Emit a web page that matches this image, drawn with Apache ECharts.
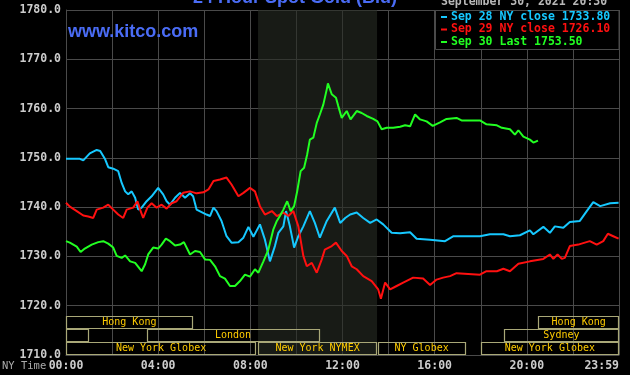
<!DOCTYPE html>
<html>
<head>
<meta charset="utf-8">
<script src="https://cdn.jsdelivr.net/npm/echarts@6/dist/echarts.min.js"></script>
<style>
html,body{margin:0;padding:0;background:#000;}
#chart{width:630px;height:375px;}
</style>
</head>
<body>
<div id="chart"></div>
<script>
// ---- data (minutes after NY midnight, price) ----
const sep28 = [[0,1749.8],[36,1749.8],[45,1749.5],[62,1750.9],[80,1751.6],[89,1751.4],[102,1749.7],[110,1748.1],[123,1747.8],[136,1747.3],[145,1744.9],[154,1743.2],[162,1742.6],[171,1743.2],[180,1741.9],[188,1739.5],[197,1739.9],[210,1741.2],[223,1742.2],[240,1743.9],[253,1742.6],[262,1741.2],[271,1740.5],[284,1741.9],[297,1742.9],[310,1741.9],[323,1742.8],[331,1742.2],[340,1739.5],[353,1739.0],[366,1738.5],[375,1738.2],[384,1739.9],[392,1739.2],[405,1737.2],[418,1734.1],[431,1732.8],[449,1732.9],[462,1733.8],[475,1736.0],[488,1734.0],[505,1736.5],[518,1733.4],[531,1729.0],[544,1732.1],[553,1734.8],[566,1736.1],[573,1739.2],[583,1736.1],[594,1731.8],[605,1734.1],[618,1736.1],[635,1739.2],[648,1736.8],[661,1733.8],[679,1737.2],[700,1739.9],[714,1736.8],[727,1737.8],[740,1738.5],[757,1738.9],[774,1737.8],[792,1736.8],[809,1737.5],[826,1736.5],[848,1734.8],[870,1734.7],[896,1734.9],[913,1733.6],[948,1733.4],[987,1733.1],[1009,1734.1],[1078,1734.1],[1104,1734.5],[1139,1734.5],[1156,1734.1],[1182,1734.3],[1208,1735.3],[1217,1734.5],[1243,1736.0],[1260,1734.8],[1273,1736.1],[1295,1735.8],[1312,1737.0],[1338,1737.2],[1356,1739.2],[1373,1741.0],[1391,1740.2],[1417,1740.8],[1439,1740.9]];
const sep29 = [[0,1740.9],[10,1740.1],[28,1739.2],[45,1738.3],[58,1738.1],[71,1737.8],[80,1739.5],[97,1739.9],[110,1740.5],[123,1739.5],[136,1738.5],[149,1737.8],[158,1739.5],[175,1739.9],[186,1741.2],[193,1739.5],[201,1737.8],[212,1739.9],[223,1740.8],[236,1739.9],[249,1740.5],[262,1739.7],[275,1740.8],[288,1741.2],[305,1742.9],[323,1743.2],[340,1742.8],[358,1743.0],[371,1743.6],[384,1745.3],[401,1745.6],[418,1746.0],[431,1744.6],[449,1742.2],[462,1742.9],[479,1743.9],[492,1743.2],[505,1740.2],[518,1738.5],[536,1739.2],[549,1738.2],[566,1738.9],[579,1738.2],[592,1739.2],[605,1736.1],[618,1730.1],[627,1728.0],[640,1728.7],[653,1726.7],[666,1729.4],[674,1731.4],[692,1732.1],[703,1732.8],[718,1731.1],[731,1730.1],[744,1728.0],[757,1727.4],[774,1726.0],[796,1725.0],[813,1723.3],[820,1721.4],[831,1724.7],[844,1723.3],[861,1724.0],[878,1724.7],[904,1725.7],[930,1725.5],[948,1724.2],[965,1725.3],[982,1725.7],[1000,1726.0],[1017,1726.6],[1078,1726.3],[1095,1727.0],[1122,1727.0],[1139,1727.5],[1156,1727.0],[1178,1728.5],[1208,1729.0],[1243,1729.5],[1260,1730.4],[1269,1729.5],[1280,1730.4],[1291,1729.5],[1299,1729.7],[1312,1732.1],[1334,1732.4],[1351,1732.8],[1364,1733.1],[1382,1732.4],[1399,1733.1],[1411,1734.6],[1425,1734.1],[1439,1733.6]];
const sep30 = [[0,1733.1],[10,1732.8],[28,1732.0],[38,1730.9],[49,1731.6],[67,1732.4],[84,1732.9],[97,1733.1],[110,1732.6],[123,1731.8],[132,1730.1],[145,1729.7],[154,1730.2],[167,1729.0],[180,1728.7],[197,1727.0],[206,1728.4],[214,1730.4],[227,1731.8],[240,1731.6],[249,1732.4],[260,1733.6],[271,1733.1],[284,1732.2],[297,1732.4],[307,1732.9],[323,1730.4],[336,1731.1],[349,1730.9],[362,1729.4],[375,1729.3],[388,1728.0],[401,1726.0],[414,1725.5],[427,1724.0],[440,1724.0],[453,1725.0],[466,1726.3],[479,1725.9],[492,1727.4],[501,1726.7],[514,1729.0],[527,1731.4],[540,1735.5],[549,1737.2],[557,1738.2],[566,1739.5],[576,1741.2],[585,1739.2],[594,1740.2],[602,1743.2],[611,1747.3],[620,1748.0],[628,1750.7],[635,1753.7],[644,1754.1],[653,1757.1],[661,1758.8],[670,1760.8],[679,1763.9],[682,1765.1],[692,1762.9],[703,1762.2],[709,1760.5],[718,1758.1],[731,1759.5],[741,1757.8],[757,1759.5],[770,1759.1],[783,1758.5],[800,1757.9],[811,1757.4],[822,1755.8],[835,1756.1],[852,1756.1],[870,1756.3],[883,1756.6],[896,1756.4],[909,1758.8],[922,1757.8],[939,1757.4],[955,1756.5],[974,1757.2],[991,1757.9],[1017,1758.1],[1030,1757.6],[1078,1757.6],[1095,1756.8],[1122,1756.6],[1135,1756.1],[1156,1755.8],[1169,1754.7],[1178,1755.6],[1191,1754.3],[1208,1753.7],[1217,1753.1],[1229,1753.5]];
const legendLabels = ['Sep 28 NY close 1733.80', 'Sep 29 NY close 1726.10', 'Sep 30 Last 1753.50'];
// sessions: [start minute, end minute, row (0 = bottom), label]
const sessions = [
  [0, 330, 2, 'Hong Kong'],
  [1230, 1440, 2, 'Hong Kong'],
  [0, 60, 1, ''],
  [210, 660, 1, 'London'],
  [1140, 1440, 1, 'Sydney'],
  [0, 495, 0, 'New York Globex'],
  [500, 810, 0, 'New York NYMEX'],
  [812, 1040, 0, 'NY Globex'],
  [1080, 1440, 0, 'New York Globex']
];
const nymexOpen = [500, 810];
const yTicks = {min: 1710, max: 1780, step: 10};
const titleText = '24 Hour Spot Gold (Bid)';
const siteText = 'www.kitco.com';
const dateText = 'September 30, 2021 20:30';

const colors = ['#16c8ff', '#ff1010', '#22ff22'];
const mono = 'DejaVu Sans Mono';
const gridColor = '#4a4a4a';

function fmtTime(v) {
  if (v >= 1440) return '23:59';
  if (v % 240 !== 0) return '';
  const h = Math.floor(v / 60);
  return (h < 10 ? '0' : '') + h + ':00';
}

const chart = echarts.init(document.getElementById('chart'), null, {renderer: 'canvas'});
const seriesData = [sep28, sep29, sep30];

const option = {
  backgroundColor: '#000000',
  animation: false,
  grid: {left: 66, right: 11, top: 10, bottom: 20, containLabel: false},
  xAxis: {
    type: 'value', min: 0, max: 1440, interval: 120,
    axisLine: {show: true, lineStyle: {color: gridColor}},
    axisTick: {show: false},
    splitLine: {show: true, lineStyle: {color: gridColor, width: 1}},
    axisLabel: {
      formatter: fmtTime, color: '#cccccc', fontFamily: mono, fontWeight: 'bold',
      fontSize: 11.5, margin: 5, alignMaxLabel: 'right', showMaxLabel: true, showMinLabel: true
    }
  },
  yAxis: {
    type: 'value', min: yTicks.min, max: yTicks.max, interval: yTicks.step,
    axisLine: {show: true, lineStyle: {color: gridColor}},
    axisTick: {show: false},
    splitLine: {show: true, lineStyle: {color: gridColor, width: 1}},
    axisLabel: {
      formatter: v => v.toFixed(1), color: '#cccccc', fontFamily: mono, fontWeight: 'bold',
      fontSize: 11.5, margin: 5
    }
  },
  legend: {
    orient: 'vertical', left: 441, top: 11, padding: 0, itemGap: 0.5,
    itemWidth: 6, itemHeight: 2, icon: 'rect', z: 6, selectedMode: false,
    textStyle: {fontFamily: mono, fontWeight: 'bold', fontSize: 11.5, lineHeight: 12, padding: [0, 0, 0, -1]},
    data: legendLabels.map((n, i) => ({name: n, textStyle: {color: colors[i]}}))
  },
  graphic: [
    {type: 'rect', z: 3, shape: {x: 435.5, y: 10.5, width: 183.5, height: 39},
     style: {fill: '#000000', stroke: gridColor, lineWidth: 1}},
    {type: 'text', z: 5, left: 441, top: -4,
     style: {text: dateText, fill: '#b8b8b8', font: 'bold 11.5px "DejaVu Sans Mono"'}},
    {type: 'text', z: 5, x: 295, y: -2,
     style: {text: titleText, fill: '#4a6cf5', font: 'bold 18px "Liberation Sans"', textAlign: 'center', textVerticalAlign: 'middle'}},
    {type: 'text', z: 5, x: 68, y: 32,
     style: {text: siteText, fill: '#4a6cf5', font: 'bold 18px "Liberation Sans"', textAlign: 'left', textVerticalAlign: 'middle'}},
    {type: 'text', z: 5, x: 2, y: 366,
     style: {text: 'NY Time', fill: '#aaaaaa', font: '10.5px "DejaVu Sans Mono"', textAlign: 'left', textVerticalAlign: 'middle'}}
  ],
  series: [
    {
      type: 'custom', name: 'sessions', silent: true, z: 1,
      data: sessions.map(s => [s[0], s[1], s[2]]),
      encode: {x: [0, 1]},
      renderItem: function (params, api) {
        const s = api.value(0), e = api.value(1), row = api.value(2);
        const p0 = api.coord([s, yTicks.min]);
        const p1 = api.coord([e, yTicks.min]);
        const yb = p0[1] - 0.7 - row * 12.9;
        const yt = yb - 12.3;
        const label = sessions[params.dataIndex][3];
        const children = [{
          type: 'rect',
          shape: {x: Math.round(p0[0]) + 0.5, y: Math.round(yt) + 0.5, width: Math.round(p1[0] - p0[0]) - 1, height: Math.round(yb - yt)},
          style: {fill: 'none', stroke: '#a9a878', lineWidth: 1.2}
        }];
        if (label) {
          children.push({
            type: 'text',
            style: {text: label, x: (p0[0] + p1[0]) / 2, y: (yt + yb) / 2 + 0.5, textAlign: 'center', textVerticalAlign: 'middle',
                    fill: '#ffcc00', font: '10px "DejaVu Sans Mono"'}
          });
        }
        return {type: 'group', children: children};
      }
    },
    ...seriesData.map((d, i) => ({
      type: 'line', name: legendLabels[i], data: d, showSymbol: false, symbol: 'none',
      lineStyle: {color: colors[i], width: 2}, itemStyle: {color: colors[i]}, z: 2 + i,
      markArea: i === 0 ? {
        silent: true,
        itemStyle: {color: 'rgba(38,44,36,0.62)'},
        data: [[{xAxis: nymexOpen[0]}, {xAxis: nymexOpen[1]}]]
      } : undefined
    }))
  ]
};
chart.setOption(option);
</script>
</body>
</html>
